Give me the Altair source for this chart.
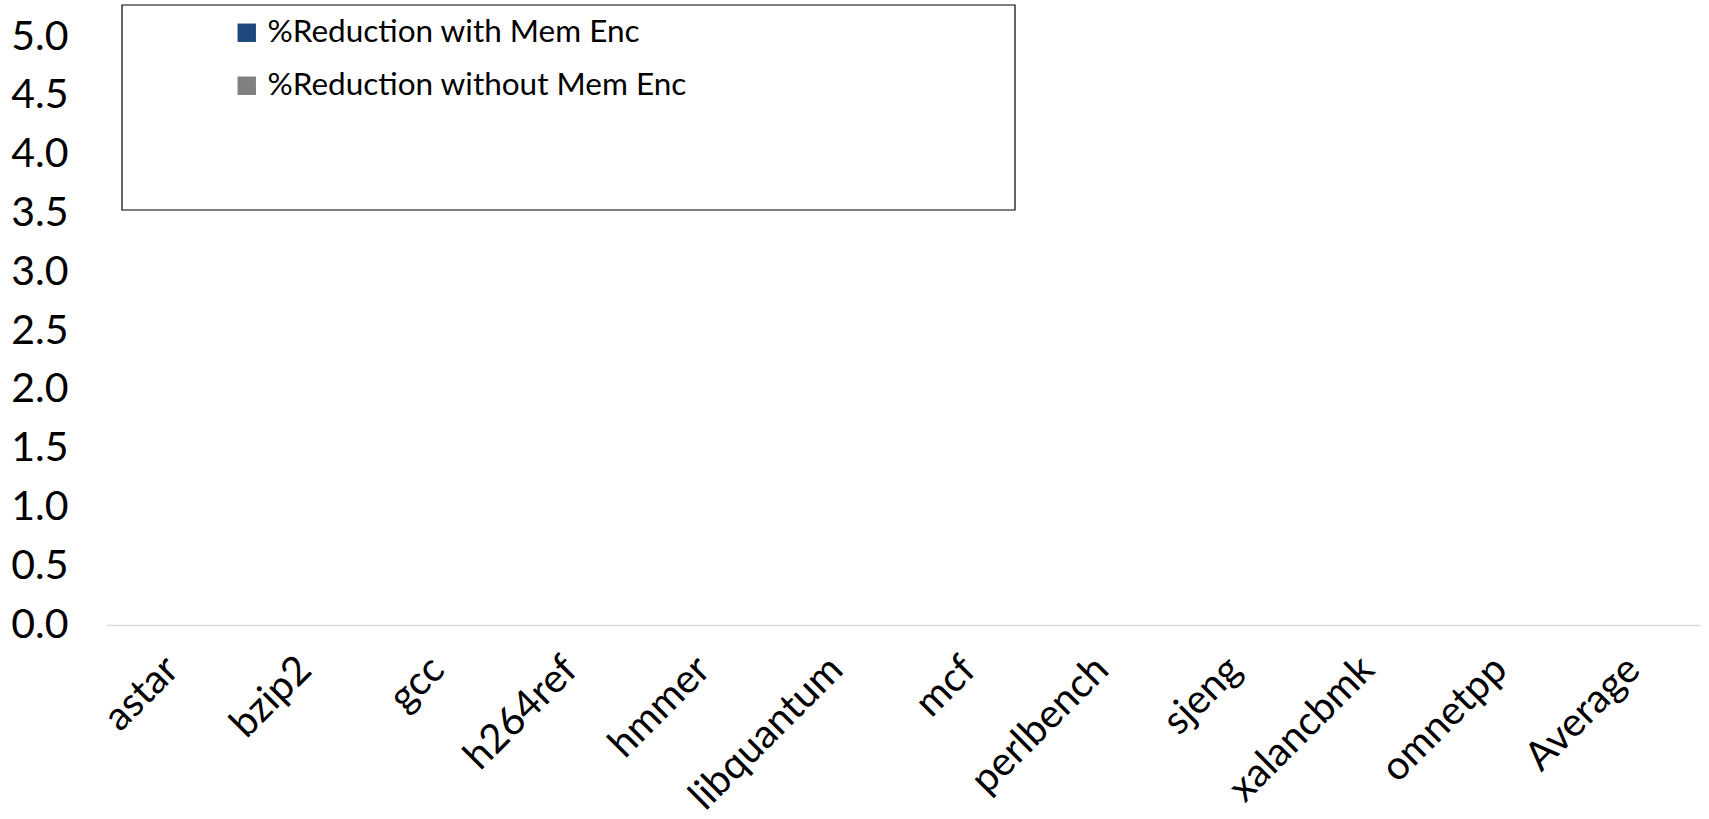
import altair as alt
import pandas as pd

# Benchmarks on the x axis
benchmarks = ["astar", "bzip2", "gcc", "h264ref", "hmmer", "libquantum",
              "mcf", "perlbench", "sjeng", "xalancbmk", "omnetpp", "Average"]

# The two series (percent reduction)
series_names = ["%Reduction with Mem Enc", "%Reduction without Mem Enc"]
with_mem_enc = [0.0, 0.0, 0.0, 0.0, 0.0, 0.0, 0.0, 0.0, 0.0, 0.0, 0.0, 0.0]
without_mem_enc = [0.0, 0.0, 0.0, 0.0, 0.0, 0.0, 0.0, 0.0, 0.0, 0.0, 0.0, 0.0]

series_colors = ["#1F497D", "#808080"]
y_ticks = [0.0, 0.5, 1.0, 1.5, 2.0, 2.5, 3.0, 3.5, 4.0, 4.5, 5.0]

rows = []
for b, v1, v2 in zip(benchmarks, with_mem_enc, without_mem_enc):
    rows.append({"benchmark": b, "series": series_names[0], "value": v1})
    rows.append({"benchmark": b, "series": series_names[1], "value": v2})
df = pd.DataFrame(rows)

FONT = "Lato"

bars = alt.Chart(df).mark_bar().encode(
    x=alt.X("benchmark:N", sort=benchmarks, title=None,
            scale=alt.Scale(paddingInner=0.3, paddingOuter=0.15),
            axis=alt.Axis(labelAngle=-45, labelAlign="right", labelBaseline="middle",
                          labelPadding=38, ticks=False, domainColor="#d9d9d9",
                          domainWidth=1.5, labelFontSize=40, labelFont=FONT,
                          labelColor="black", labelLimit=400)),
    xOffset=alt.XOffset("series:N", sort=series_names),
    y=alt.Y("value:Q", title=None,
            scale=alt.Scale(domain=[0, 5], nice=False),
            axis=alt.Axis(values=y_ticks, format=".1f", domain=False, ticks=False,
                          grid=False, labelPadding=38, labelFontSize=41,
                          labelFont=FONT, labelColor="black")),
    color=alt.Color("series:N", sort=series_names,
                    scale=alt.Scale(domain=series_names, range=series_colors),
                    legend=alt.Legend(orient="none", legendX=125, legendY=-20,
                                      title=None, symbolType="square",
                                      symbolSize=340, symbolStrokeWidth=0,
                                      labelFontSize=31.5, labelFont=FONT,
                                      labelColor="black", labelOffset=5,
                                      rowPadding=20, padding=0,
                                      labelLimit=600)),
)

# Frame around the legend
legend_box = alt.Chart(pd.DataFrame({"k": [0]})).mark_rect(
    fillOpacity=0, stroke="black", strokeWidth=1.2
).encode(
    x=alt.value(16), x2=alt.value(909), y=alt.value(-32), y2=alt.value(173)
)

chart = alt.layer(legend_box, bars).properties(
    width=1594, height=588,
    padding={"left": 106, "top": 37, "right": 9, "bottom": 194},
    autosize=alt.AutoSizeParams(type="none"),
    background="white",
).configure_view(stroke=None)

chart.save("out.html", embed_options={"renderer": "svg", "actions": False})
